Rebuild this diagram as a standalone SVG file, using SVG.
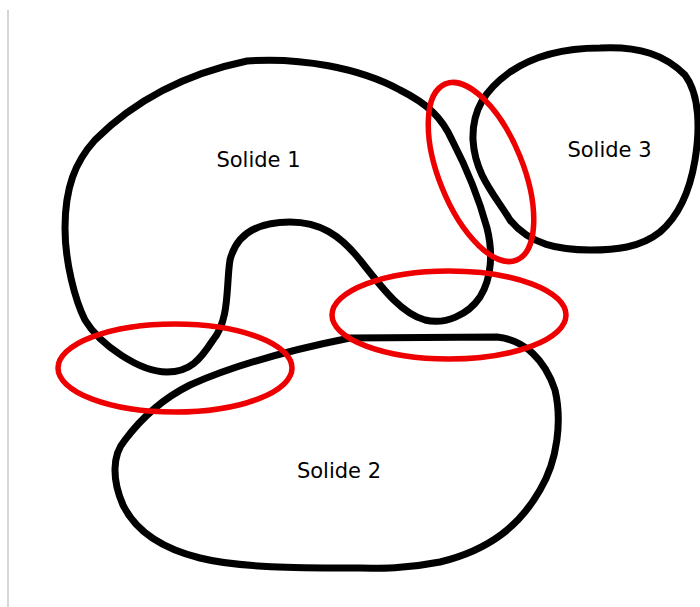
<svg xmlns="http://www.w3.org/2000/svg" width="700" height="607" viewBox="0 0 700 607">
<style>
.solid{fill:none;stroke:#000;stroke-width:7;stroke-linejoin:round;stroke-linecap:round}
.zone{fill:none;stroke:#ee0000;stroke-width:5.5}
.lbl{font-family:"DejaVu Sans",sans-serif;font-size:21px;fill:#000;text-anchor:middle}
</style>
<rect width="700" height="607" fill="#fff"/>
<line x1="8" y1="10" x2="8" y2="607" stroke="#c8c8c8" stroke-width="1.5"/>
<g id="solide1">
<path class="solid" d="M 247,61 C 300,57 360,68 400,90 C 428,104 442,118 452,140 C 465,165 478,195 487,228 C 493,252 492,278 480,297 C 468,315 445,325 425,320 C 400,313 380,285 360,260 C 340,235 320,222 290,222 C 250,222 235,240 230,260 C 226,285 230,320 213,340 C 200,360 190,372 167,372 C 140,372 100,345 85,320 C 75,300 65,262 65,228 C 65,188 75,162 95,140 C 130,105 180,75 247,61 Z"/>
<text class="lbl" x="258.5" y="167">Solide 1</text>
</g>
<g id="solide3">
<path class="solid" d="M 600,48 C 640,46 665,55 685,75 C 700,95 700,130 695,160 C 690,190 680,215 660,232 C 640,248 615,250 590,250 C 560,250 530,245 510,220 C 495,195 475,175 473,140 C 472,110 485,90 510,72 C 535,55 565,48 600,48 Z"/>
<text class="lbl" x="609.5" y="157">Solide 3</text>
</g>
<g id="solide2">
<path class="solid" d="M 350,338 L 497,337 C 525,340 545,360 555,390 C 562,420 558,460 540,490 C 520,525 490,550 440,562 C 400,570 370,568 350,568 C 300,568 240,568 200,558 C 160,548 135,530 123,505 C 112,480 112,455 125,440 C 140,420 160,400 190,385 C 230,367 280,352 350,338 Z"/>
<text class="lbl" x="339" y="478">Solide 2</text>
</g>
<g id="contacts">
<ellipse id="contact12" class="zone" cx="175" cy="368" rx="117" ry="44"/>
<ellipse id="contact1-2b" class="zone" cx="449" cy="315" rx="117" ry="44"/>
<ellipse id="contact13" class="zone" cx="481" cy="172" rx="95" ry="42" transform="rotate(68 481 172)"/>
</g>
</svg>
